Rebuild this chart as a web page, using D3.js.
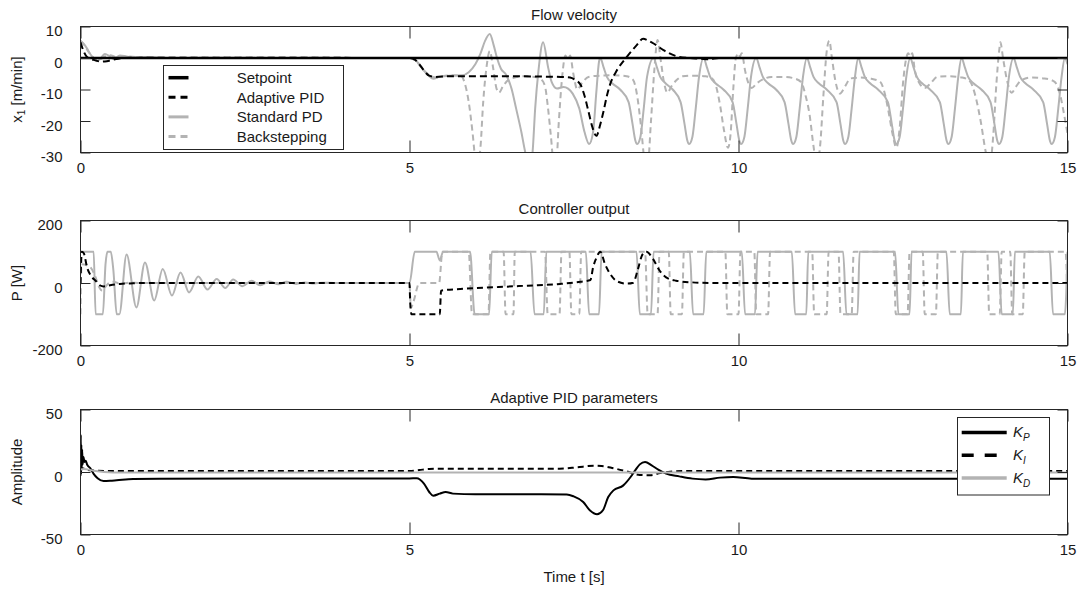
<!DOCTYPE html>
<html>
<head>
<meta charset="utf-8">
<title>Flow velocity / Controller output / Adaptive PID parameters</title>
<style>
  body { margin: 0; background: #fff; }
  svg text { font-family: "Liberation Sans", Arial, Helvetica, sans-serif; font-size: 15px; fill: #1a1a1a; }
  .frame { fill: none; stroke: #262626; stroke-width: 1; }
  .legendbox { fill: #fff; stroke: #262626; stroke-width: 1; }
  .sig { fill: none; stroke-linejoin: round; }
</style>
</head>
<body>
<script src="https://cdn.jsdelivr.net/npm/d3@7"></script>
<script>
var W = 1082, H = 590;

// ---- ticks / labels ----
var xTicks = [0, 5, 10, 15];
var x1Ticks = [-30, -20, -10, 0, 10];
var pTicks = [-200, 0, 200];
var kTicks = [-50, 0, 50];
var panelTitles = ["Flow velocity", "Controller output", "Adaptive PID parameters"];
var x1LegendNames = ["Setpoint", "Adaptive PID", "Standard PD", "Backstepping"];
var kLegendSubs = ["P", "I", "D"];

// ---- flow velocity x1 [m/min], pairs [t, value] ----
var x1Setpoint = [[0,0],[15,0]];

var x1Adaptive = [[0,5],[0.05,2],[0.1,0.3],[0.2,-0.6],[0.3,-1.1],[0.4,-1],[0.5,-0.5],[0.65,0],[1,0.1],[5,0],
  [5.08,-0.5],[5.15,-2],[5.22,-4],[5.3,-5.6],[5.4,-6],[5.6,-5.8],[6.5,-5.8],[7.0,-5.9],[7.3,-6],[7.44,-6.2],
  [7.52,-7],[7.6,-8.5],[7.66,-12],[7.72,-17],[7.78,-22],[7.84,-24.7],[7.9,-21],[7.95,-16.8],[8.0,-12],
  [8.05,-8.3],[8.15,-4],[8.3,0.3],[8.45,4],[8.55,6.1],[8.63,5.5],[8.71,4.6],[8.86,2.5],[9.07,0.5],
  [9.25,0],[9.42,-0.2],[9.55,-0.4],[9.7,0],[15,0]];

var x1StandardPD = [[0,5.4],[0.05,4.5],[0.1,3],[0.15,1.2],[0.2,0],[0.25,-1],[0.3,-0.3],[0.37,1.3],[0.44,0.6],
  [0.5,-0.3],[0.6,0.8],[0.7,0.5],[0.85,0.1],[1.0,0.3],[1.3,0],[5.0,0],
  [5.08,-0.5],[5.15,-2],[5.22,-4],[5.3,-5.8],[5.36,-6.6],[5.45,-6.0],[5.6,-5.6],[5.8,-5.5],[5.9,-4.5],
  [6.0,-2],[6.08,1.5],[6.15,5.5],[6.22,7.6],[6.28,4],[6.33,0],[6.39,-3.4],[6.47,-5.4],[6.55,-9.7],
  [6.62,-16],[6.7,-23.5],[6.76,-30],[6.8,-33],[6.84,-34],[6.87,-30],[6.91,-16],[6.96,-4],[7.03,5],
  [7.11,-3.3],[7.16,-7.6],[7.24,-9.7],[7.34,-9.2],[7.41,-9.7],[7.48,-11.3],[7.58,-16],[7.66,-23.5],
  [7.73,-27.3],[7.79,-23.5],[7.84,-10.7],[7.88,-1.2],
  [7.9,0],[7.95,-3],[8.0,-6],[8.08,-8],[8.2,-10],[8.33,-14],[8.39,-21],[8.43,-26],[8.46,-27.3],[8.51,-25],[8.56,-16],[8.61,-6],
  [8.71,0],[8.76,-3],[8.81,-6],[8.89,-8],[9.0,-10],[9.12,-14],[9.18,-21],[9.22,-26],[9.25,-27.3],[9.3,-25],[9.35,-16],[9.4,-6],
  [9.47,0],[9.52,-3],[9.57,-6],[9.65,-8],[9.77,-10],[9.91,-14],[9.97,-21],[10.01,-26],[10.04,-27.3],[10.09,-25],[10.14,-16],[10.19,-6],
  [10.27,0],[10.32,-3],[10.37,-6],[10.45,-8],[10.57,-10],[10.7,-14],[10.76,-21],[10.8,-26],[10.83,-27.3],[10.88,-25],[10.93,-16],[10.98,-6],
  [11.04,0],[11.09,-3],[11.14,-6],[11.22,-8],[11.34,-10],[11.49,-14],[11.55,-21],[11.59,-26],[11.62,-27.3],[11.67,-25],[11.72,-16],[11.77,-6],
  [11.82,0],[11.87,-3],[11.92,-6],[12.0,-8],[12.12,-10],[12.27,-14],[12.33,-21],[12.37,-26],[12.4,-27.3],[12.45,-25],[12.5,-16],[12.55,-6],
  [12.61,0],[12.66,-3],[12.71,-6],[12.79,-8],[12.91,-10],[13.06,-14],[13.12,-21],[13.16,-26],[13.19,-27.3],[13.24,-25],[13.29,-16],[13.34,-6],
  [13.39,0],[13.44,-3],[13.49,-6],[13.57,-8],[13.69,-10],[13.83,-14],[13.89,-21],[13.93,-26],[13.96,-27.3],[14.01,-25],[14.06,-16],[14.11,-6],
  [14.18,0],[14.23,-3],[14.28,-6],[14.36,-8],[14.48,-10],[14.63,-14],[14.69,-21],[14.73,-26],[14.76,-27.3],[14.81,-25],[14.86,-16],[14.91,-6],
  [14.96,0],[15,-2]];

var x1Backstepping = [[0,5.5],[0.06,4],[0.12,2],[0.2,0],[0.27,-0.8],[0.35,0.3],[0.45,0.9],[0.55,0.2],[0.7,0.5],[1.0,0.1],[5.0,0],
  [5.1,-1],[5.2,-3.5],[5.3,-5.5],[5.4,-6.2],[5.5,-5.8],[5.65,-5.5],[5.78,-5.6],[5.84,-8],[5.9,-14],[5.96,-24],
  [6.0,-32],[6.04,-34],[6.08,-28],[6.12,-14],[6.17,-3],[6.22,2.2],[6.27,-3],[6.32,-9.5],[6.36,-11],[6.42,-9],
  [6.5,-7],[6.6,-6.2],[6.75,-5.8],[6.9,-6],[7.0,-6.8],[7.06,-9],[7.1,-15],[7.15,-25],[7.19,-33],[7.23,-33],
  [7.27,-20],[7.32,-6],[7.37,0.8],[7.41,-0.5],[7.44,0.8],[7.49,-5],[7.55,-10],[7.62,-8],[7.72,-6],[7.9,-5.6],
  [8.1,-5.5],[8.3,-5.8],[8.4,-7],[8.46,-12],[8.52,-22],[8.57,-32],[8.62,-34],[8.67,-20],[8.72,-4],[8.77,5.7],
  [8.82,-1],[8.87,-8],[8.92,-11],[8.98,-9],[9.06,-7],[9.15,-5.8],[9.3,-5.6],[9.5,-5.8],[9.6,-6.5],[9.66,-9],
  [9.72,-15],[9.78,-23],[9.84,-28.5],[9.88,-24],[9.92,-10],[9.96,0],[10.0,1.5],[10.02,0.5],[10.05,1.5],
  [10.1,-4],[10.15,-8],[10.2,-9.5],[10.28,-8],[10.37,-6.8],[10.5,-6],[10.7,-6],[10.85,-6.5],[10.95,-7.6],
  [11.02,-12],[11.08,-18],[11.14,-28],[11.19,-34],[11.24,-28],[11.29,-12],[11.34,2],[11.38,5.5],[11.42,0],
  [11.47,-7],[11.54,-11.3],[11.62,-9],[11.7,-6.5],[11.85,-6.2],[12.0,-6.5],[12.15,-7.5],[12.22,-11],[12.28,-17],
  [12.34,-24],[12.4,-28.5],[12.45,-22],[12.5,-8],[12.55,0],[12.58,1.5],[12.61,0.5],[12.64,1.5],[12.68,-4],
  [12.75,-8],[12.83,-9.5],[12.92,-8],[13.02,-6],[13.2,-5.8],[13.4,-6.2],[13.52,-7.5],[13.6,-12],[13.68,-20],
  [13.76,-30],[13.82,-34],[13.87,-25],[13.92,-8],[13.96,2],[13.98,5],[14.02,0],[14.08,-7],[14.15,-11],
  [14.22,-9],[14.3,-7],[14.45,-6.2],[14.65,-6.5],[14.8,-7.5],[14.88,-11],[14.94,-17],[15.0,-24]];

// ---- controller output P [W] ----
var pAdaptive = [[0,0],[0.02,100],[0.05,95],[0.1,50],[0.17,20],[0.23,7],[0.3,-8],[0.35,-11],[0.45,-7],[0.6,-3],
  [0.8,-1],[1.0,0],[5.0,0],[5.01,-60],[5.03,-100],[5.46,-100],[5.48,-24.5],[5.77,-19],[6.28,-13.7],[6.79,-8.5],
  [7.29,-3],[7.6,4],[7.75,9.6],[7.79,50],[7.84,80],[7.9,100],[7.97,61],[8.05,29],[8.15,6],[8.3,-2],[8.4,1],
  [8.47,43],[8.54,91],[8.6,100],[8.7,77],[8.8,40],[8.9,18],[9.05,7.5],[9.3,2],[9.6,0],[15,0]];

var pStandardPD = [[0,100],[0.2,100],[0.23,-100],[0.34,-100],[0.38,60],[0.41,100],[0.46,100],[0.5,40],
  [0.55,-100],[0.59,-100],[0.7,91],[0.85,-78],[0.98,66],[1.12,-56],[1.25,45],[1.39,-40],[1.52,34],[1.65,-30],
  [1.79,21],[1.93,-21],[2.07,13],[2.2,-16],[2.32,11],[2.46,-10],[2.6,7.5],[2.73,-7.5],[2.87,5],[3.01,-4],
  [3.13,4],[3.28,-3],[3.41,2],[3.55,-1.5],[3.69,1],[3.85,0],[5.0,0],
  [5.08,100],[5.41,100],[5.46,72],[5.51,100],[5.92,100],[5.99,-100],[6.21,-100],[6.25,100],[6.84,100],
  [6.9,-100],[7.04,-100],[7.08,100],[7.68,100],[7.73,-100],[7.88,-100],[7.92,100],[8.45,100],[8.5,-100],
  [8.67,-100],[8.71,100],[9.26,100],[9.31,-100],[9.47,-100],[9.51,100],[10.05,100],[10.1,-100],[10.25,-100],
  [10.29,100],[10.81,100],[10.86,-100],[11.03,-100],[11.06,100],[11.59,100],[11.64,-100],[11.81,-100],
  [11.84,100],[12.38,100],[12.43,-100],[12.6,-100],[12.63,100],[13.16,100],[13.21,-100],[13.38,-100],
  [13.41,100],[13.95,100],[14.0,-100],[14.17,-100],[14.2,100],[14.73,100],[14.78,-100],[14.96,-100],[15,100]];

var pBackstepping = [[0,-100],[0.015,60],[0.1,57],[0.17,45],[0.23,18],[0.28,-12],[0.33,-24],[0.38,-12],
  [0.43,0],[0.5,4],[0.6,-2],[0.75,1],[0.9,0],[5.0,0],[5.02,-80],[5.06,-60],[5.15,0],[5.45,0],[5.5,100],
  [5.9,100],[5.95,-100],[6.2,-100],[6.23,100],[6.43,100],[6.46,-100],[6.58,-100],[6.6,100],[7.06,100],
  [7.1,-100],[7.28,-100],[7.31,100],[7.43,100],[7.46,-100],[7.58,-100],[7.61,100],[8.58,100],[8.62,-100],
  [8.77,-100],[8.8,100],[8.94,100],[8.97,-100],[9.14,-100],[9.17,100],[9.8,100],[9.83,-100],[10.0,-100],
  [10.03,100],[10.24,100],[10.27,-100],[10.45,-100],[10.48,100],[11.12,100],[11.15,-100],[11.34,-100],
  [11.37,100],[11.52,100],[11.55,-100],[11.72,-100],[11.75,100],[12.36,100],[12.39,-100],[12.57,-100],
  [12.6,100],[12.8,100],[12.83,-100],[13.0,-100],[13.03,100],[13.78,100],[13.81,-100],[13.97,-100],
  [14.0,100],[14.13,100],[14.16,-100],[14.32,-100],[14.35,100],[14.97,100],[15,-60]];

// ---- adaptive PID parameters ----
var kP = [[0,-3],[0.004,30],[0.008,-2],[0.013,22],[0.018,2],[0.025,18],[0.032,6],[0.045,12],[0.06,8],
  [0.08,9],[0.1,6],[0.15,3],[0.2,-1.5],[0.26,-5],[0.35,-7.2],[0.45,-7],[0.55,-6.6],[0.8,-5.6],[1.2,-5.3],
  [5.0,-5.1],[5.11,-5],[5.22,-9.3],[5.3,-16],[5.36,-19],[5.46,-17.3],[5.55,-16],[5.66,-17.3],[6.0,-17.8],
  [7.0,-17.8],[7.39,-18],[7.49,-19.4],[7.64,-24],[7.74,-30.6],[7.85,-33.8],[7.94,-30.6],[8.02,-20],
  [8.1,-14.7],[8.25,-10.7],[8.36,-4],[8.43,1.3],[8.5,6.1],[8.58,8],[8.68,5.3],[8.78,1.9],[8.9,-1.3],
  [9.1,-3.5],[9.3,-5.3],[9.5,-5.9],[9.72,-4.5],[9.92,-4],[10.2,-5.3],[15,-5.3]];

var kI = [[0,0],[0.03,3],[0.08,2],[0.2,1.2],[0.5,0.8],[5.0,0.8],[5.15,1.6],[5.3,2.4],[5.52,2.7],[7.28,2.7],
  [7.54,3.7],[7.8,5],[7.92,4.8],[8.1,3],[8.3,0.5],[8.5,-2.4],[8.66,-2.6],[8.81,-0.8],[8.96,0.3],[9.2,0.8],[15,0.8]];

var kD = [[0,2],[0.05,2.5],[0.2,1],[0.5,-0.3],[15,-0.3]];

// ---- drawing ----
var plotLeft = 80.5, plotRight = 1067.5;
var x = d3.scaleLinear().domain([0, 15]).range([plotLeft, plotRight]);
var black = "#000", gray = "#b3b3b3";

var panels = [
  {top: 26.5, bottom: 152.5, domain: [-30, 10], ticks: x1Ticks, series: [
    {data: x1StandardPD, color: gray, w: 2},
    {data: x1Backstepping, color: gray, w: 2, dash: "6,4"},
    {data: x1Adaptive, color: black, w: 2, dash: "7,4"},
    {data: x1Setpoint, color: black, w: 2.5}]},
  {top: 220.5, bottom: 345.5, domain: [-200, 200], ticks: pTicks, series: [
    {data: pStandardPD, color: gray, w: 2},
    {data: pBackstepping, color: gray, w: 2, dash: "6,4"},
    {data: pAdaptive, color: black, w: 2, dash: "6,4"}]},
  {top: 409.5, bottom: 534.5, domain: [-50, 50], ticks: kTicks, series: [
    {data: kP, color: black, w: 2},
    {data: kI, color: black, w: 2, dash: "6,4"},
    {data: kD, color: gray, w: 2}]}
];

var svg = d3.select("body").append("svg").attr("width", W).attr("height", H);
var defs = svg.append("defs");
var fmt = function(d){ return String(d); };

panels.forEach(function(p, i){
  var y = d3.scaleLinear().domain(p.domain).range([p.bottom, p.top]);
  defs.append("clipPath").attr("id", "clip" + i).append("rect")
      .attr("x", plotLeft).attr("y", p.top).attr("width", plotRight - plotLeft).attr("height", p.bottom - p.top);

  var line = d3.line().x(function(d){ return x(d[0]); }).y(function(d){ return y(d[1]); })
               .curve(d3.curveMonotoneX);
  var plot = svg.append("g").attr("clip-path", "url(#clip" + i + ")");
  p.series.forEach(function(s){
    plot.append("path").datum(s.data).attr("class", "sig").attr("d", line)
        .attr("stroke", s.color).attr("stroke-width", s.w)
        .attr("stroke-dasharray", s.dash || null);
  });

  // axes, inward ticks on all four sides
  var ax = svg.append("g").attr("color", "#262626");
  ax.append("g").attr("transform", "translate(0," + p.bottom + ")")
    .call(d3.axisBottom(x).tickValues(xTicks).tickSize(-12).tickPadding(10).tickFormat(fmt))
    .call(function(g){ g.select(".domain").remove(); });
  ax.append("g").attr("transform", "translate(0," + p.top + ")")
    .call(d3.axisTop(x).tickValues(xTicks).tickSize(-12).tickFormat(""))
    .call(function(g){ g.select(".domain").remove(); });
  ax.append("g").attr("transform", "translate(" + plotLeft + ",0)")
    .call(d3.axisLeft(y).tickValues(p.ticks).tickSize(-10).tickPadding(18).tickFormat(fmt))
    .call(function(g){ g.select(".domain").remove(); g.selectAll("text").attr("dy", "0.62em"); });
  ax.append("g").attr("transform", "translate(" + plotRight + ",0)")
    .call(d3.axisRight(y).tickValues(p.ticks).tickSize(-10).tickFormat(""))
    .call(function(g){ g.select(".domain").remove(); });

  svg.append("rect").attr("class", "frame")
     .attr("x", plotLeft).attr("y", p.top).attr("width", plotRight - plotLeft).attr("height", p.bottom - p.top);

  svg.append("text").attr("x", (plotLeft + plotRight) / 2).attr("y", p.top - 7)
     .attr("text-anchor", "middle").text(panelTitles[i]);
});

// y labels
var yl1 = svg.append("text").attr("transform", "translate(21.5," + (26.5 + 152.5) / 2 + ") rotate(-90)")
  .attr("text-anchor", "middle");
yl1.append("tspan").text("x");
yl1.append("tspan").attr("font-size", "10px").attr("dy", 3).text("1");
yl1.append("tspan").attr("dy", -3).text(" [m/min]");
svg.append("text").attr("transform", "translate(21.5," + (220.5 + 345.5) / 2 + ") rotate(-90)")
  .attr("text-anchor", "middle").text("P [W]");
svg.append("text").attr("transform", "translate(21.5," + (409.5 + 534.5) / 2 + ") rotate(-90)")
  .attr("text-anchor", "middle").text("Amplitude");

svg.append("text").attr("x", (plotLeft + plotRight) / 2).attr("y", 582)
  .attr("text-anchor", "middle").text("Time t [s]");

// legend, panel 1
var lg1Styles = [
  {color: black, w: 3.5}, {color: black, w: 3, dash: "7,5"},
  {color: gray, w: 3}, {color: gray, w: 3, dash: "7,5"}];
svg.append("rect").attr("class", "legendbox").attr("x", 163.5).attr("y", 65.5).attr("width", 180).attr("height", 84);
x1LegendNames.forEach(function(name, i){
  var yy = 77.7 + i * 19.6;
  svg.append("line").attr("x1", 168.5).attr("x2", 188.5).attr("y1", yy).attr("y2", yy)
     .attr("stroke", lg1Styles[i].color).attr("stroke-width", lg1Styles[i].w)
     .attr("stroke-dasharray", lg1Styles[i].dash || null);
  svg.append("text").attr("x", 236.7).attr("y", yy).attr("dy", "0.35em").text(name);
});

// legend, panel 3
var lg3Styles = [
  {color: black, w: 3.5}, {color: black, w: 3.5, dash: "12,11"}, {color: gray, w: 3.5}];
svg.append("rect").attr("class", "legendbox").attr("x", 957.5).attr("y", 417.5).attr("width", 92).attr("height", 77.5);
kLegendSubs.forEach(function(sub, i){
  var yy = 432.5 + i * 22.8;
  svg.append("line").attr("x1", 961.7).attr("x2", 1006.7).attr("y1", yy).attr("y2", yy)
     .attr("stroke", lg3Styles[i].color).attr("stroke-width", lg3Styles[i].w)
     .attr("stroke-dasharray", lg3Styles[i].dash || null);
  var t = svg.append("text").attr("x", 1013).attr("y", yy).attr("dy", "0.3em").attr("font-style", "italic");
  t.append("tspan").text("K");
  t.append("tspan").attr("font-size", "10px").attr("dy", 4).text(sub);
});
</script>
</body>
</html>
